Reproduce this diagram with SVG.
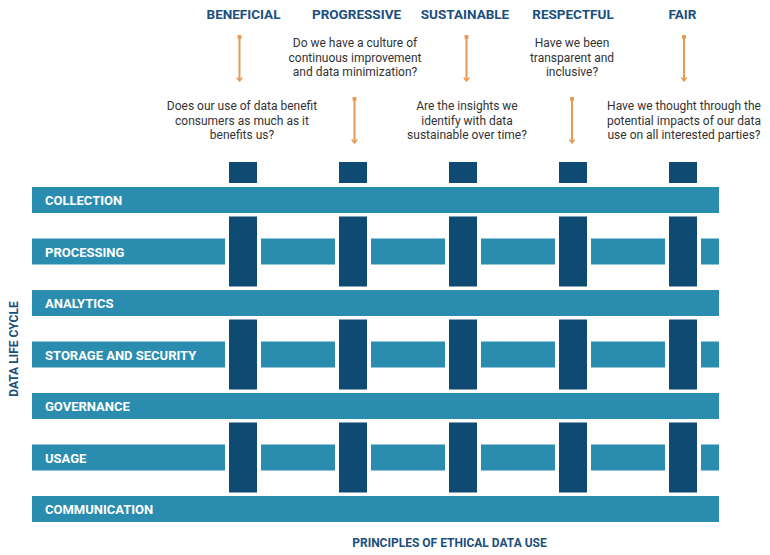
<svg xmlns="http://www.w3.org/2000/svg" width="770" height="555" viewBox="0 0 770 555">
  <defs>
    <style>
      .bar { fill: #2a8db0; }
      .col { fill: #0f4a72; }
      .bar-label { font-family: Roboto, "Liberation Sans", sans-serif; font-weight: bold; font-size: 13px; fill: #ffffff; }
      .head { font-family: Roboto, "Liberation Sans", sans-serif; font-weight: bold; font-size: 13.5px; fill: #1b4f7e; text-anchor: middle; }
      .q { font-family: Roboto, "Liberation Sans", sans-serif; font-size: 12px; fill: #333333; text-anchor: middle; }
      .axis { font-family: Roboto, "Liberation Sans", sans-serif; font-weight: bold; font-size: 12px; fill: #1b4f7e; text-anchor: middle; }
      .arrow { stroke: #e59a55; stroke-width: 2; fill: none; marker-start: url(#knob); marker-end: url(#head); }
    </style>
    <marker id="head" viewBox="0 0 10 10" refX="8" refY="5" markerWidth="7" markerHeight="7" orient="auto" markerUnits="userSpaceOnUse">
      <path d="M3,1 L8,5 L3,9" fill="none" stroke="#e59a55" stroke-width="2"/>
    </marker>
    <marker id="knob" viewBox="0 0 10 10" refX="5" refY="5" markerWidth="5" markerHeight="5" markerUnits="userSpaceOnUse">
      <rect x="1" y="1" width="8" height="8" rx="2" fill="#e59a55"/>
    </marker>
  </defs>
  <rect width="770" height="555" fill="#ffffff"/>

  <!-- Columns (principles) -->
  <g id="col-beneficial">
    <rect class="col" x="229" y="162" width="28" height="21"/>
    <rect class="col" x="229" y="216.5" width="28" height="70"/>
    <rect class="col" x="229" y="319.5" width="28" height="70"/>
    <rect class="col" x="229" y="422.5" width="28" height="70"/>
  </g>
  <g id="col-progressive">
    <rect class="col" x="339" y="162" width="28" height="21"/>
    <rect class="col" x="339" y="216.5" width="28" height="70"/>
    <rect class="col" x="339" y="319.5" width="28" height="70"/>
    <rect class="col" x="339" y="422.5" width="28" height="70"/>
  </g>
  <g id="col-sustainable">
    <rect class="col" x="449" y="162" width="28" height="21"/>
    <rect class="col" x="449" y="216.5" width="28" height="70"/>
    <rect class="col" x="449" y="319.5" width="28" height="70"/>
    <rect class="col" x="449" y="422.5" width="28" height="70"/>
  </g>
  <g id="col-respectful">
    <rect class="col" x="559" y="162" width="28" height="21"/>
    <rect class="col" x="559" y="216.5" width="28" height="70"/>
    <rect class="col" x="559" y="319.5" width="28" height="70"/>
    <rect class="col" x="559" y="422.5" width="28" height="70"/>
  </g>
  <g id="col-fair">
    <rect class="col" x="669" y="162" width="28" height="21"/>
    <rect class="col" x="669" y="216.5" width="28" height="70"/>
    <rect class="col" x="669" y="319.5" width="28" height="70"/>
    <rect class="col" x="669" y="422.5" width="28" height="70"/>
  </g>

  <!-- Rows (data life cycle) -->
  <g id="row-collection">
    <rect class="bar" x="32" y="187" width="687" height="26"/>
    <text class="bar-label" x="45" y="205">COLLECTION</text>
  </g>
  <g id="row-processing">
    <rect class="bar" x="32" y="238.5" width="193" height="26"/>
    <rect class="bar" x="261" y="238.5" width="74" height="26"/>
    <rect class="bar" x="371" y="238.5" width="74" height="26"/>
    <rect class="bar" x="481" y="238.5" width="74" height="26"/>
    <rect class="bar" x="591" y="238.5" width="74" height="26"/>
    <rect class="bar" x="701" y="238.5" width="18" height="26"/>
    <text class="bar-label" x="45" y="256.5">PROCESSING</text>
  </g>
  <g id="row-analytics">
    <rect class="bar" x="32" y="290" width="687" height="26"/>
    <text class="bar-label" x="45" y="308">ANALYTICS</text>
  </g>
  <g id="row-storage">
    <rect class="bar" x="32" y="341.5" width="193" height="26"/>
    <rect class="bar" x="261" y="341.5" width="74" height="26"/>
    <rect class="bar" x="371" y="341.5" width="74" height="26"/>
    <rect class="bar" x="481" y="341.5" width="74" height="26"/>
    <rect class="bar" x="591" y="341.5" width="74" height="26"/>
    <rect class="bar" x="701" y="341.5" width="18" height="26"/>
    <text class="bar-label" x="45" y="359.5">STORAGE AND SECURITY</text>
  </g>
  <g id="row-governance">
    <rect class="bar" x="32" y="393" width="687" height="26"/>
    <text class="bar-label" x="45" y="411">GOVERNANCE</text>
  </g>
  <g id="row-usage">
    <rect class="bar" x="32" y="444.5" width="193" height="26"/>
    <rect class="bar" x="261" y="444.5" width="74" height="26"/>
    <rect class="bar" x="371" y="444.5" width="74" height="26"/>
    <rect class="bar" x="481" y="444.5" width="74" height="26"/>
    <rect class="bar" x="591" y="444.5" width="74" height="26"/>
    <rect class="bar" x="701" y="444.5" width="18" height="26"/>
    <text class="bar-label" x="45" y="462.5">USAGE</text>
  </g>
  <g id="row-communication">
    <rect class="bar" x="32" y="496" width="687" height="26"/>
    <text class="bar-label" x="45" y="514">COMMUNICATION</text>
  </g>

  <!-- Principle headers and questions -->
  <g id="principle-beneficial">
    <text class="head" x="243.5" y="18.5">BENEFICIAL</text>
    <text class="q" x="242" y="110">Does our use of data benefit</text>
    <text class="q" x="242" y="124.5">consumers as much as it</text>
    <text class="q" x="242" y="139">benefits us?</text>
  </g>
  <g id="principle-progressive">
    <text class="head" x="356.5" y="18.5">PROGRESSIVE</text>
    <text class="q" x="355" y="47">Do we have a culture of</text>
    <text class="q" x="355" y="61.5">continuous improvement</text>
    <text class="q" x="355" y="76">and data minimization?</text>
  </g>
  <g id="principle-sustainable">
    <text class="head" x="465" y="18.5">SUSTAINABLE</text>
    <text class="q" x="467" y="110">Are the insights we</text>
    <text class="q" x="467" y="124.5">identify with data</text>
    <text class="q" x="467" y="139">sustainable over time?</text>
  </g>
  <g id="principle-respectful">
    <text class="head" x="573" y="18.5">RESPECTFUL</text>
    <text class="q" x="572" y="47">Have we been</text>
    <text class="q" x="572" y="61.5">transparent and</text>
    <text class="q" x="572" y="76">inclusive?</text>
  </g>
  <g id="principle-fair">
    <text class="head" x="682.5" y="18.5">FAIR</text>
    <text class="q" x="684" y="110">Have we thought through the</text>
    <text class="q" x="684" y="124.5">potential impacts of our data</text>
    <text class="q" x="684" y="139">use on all interested parties?</text>
  </g>

  <!-- Connectors -->
  <g id="connectors">
    <line class="arrow" x1="239.5" y1="37" x2="239.5" y2="81"/>
    <line class="arrow" x1="354.5" y1="99" x2="354.5" y2="143"/>
    <line class="arrow" x1="466.5" y1="37" x2="466.5" y2="81"/>
    <line class="arrow" x1="572" y1="99" x2="572" y2="143"/>
    <line class="arrow" x1="684" y1="37" x2="684" y2="81"/>
  </g>

  <!-- Axis labels -->
  <g id="axis-labels">
    <text class="axis" x="449.5" y="546.5">PRINCIPLES OF ETHICAL DATA USE</text>
    <text class="axis" font-size="11" transform="translate(18,349) rotate(-90)">DATA LIFE CYCLE</text>
  </g>
</svg>
